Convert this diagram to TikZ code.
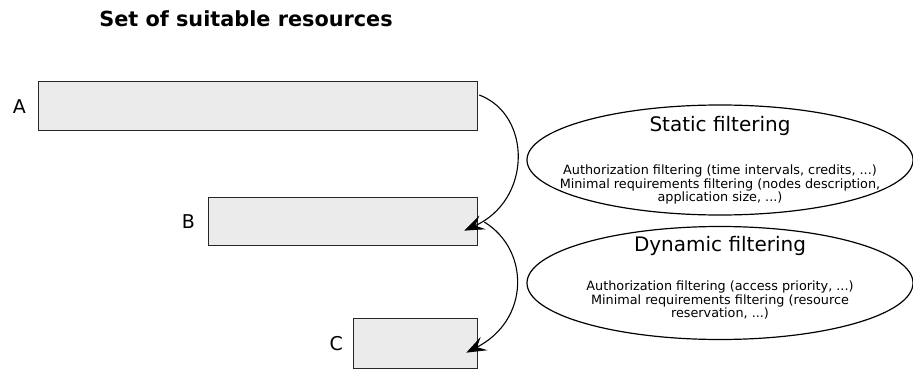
\documentclass[tikz,border=0pt]{standalone}
\usepackage{fontspec}
\setmainfont{DejaVu Sans}
\usepackage{tikz}
\usetikzlibrary{arrows.meta,positioning,shapes.geometric,calc}

\definecolor{boxgray}{HTML}{EBEBEB}

\tikzset{
  resbox/.style={draw=black!85, line width=1.3pt, fill=boxgray, inner sep=0pt, anchor=north west},
  letter/.style={inner sep=0pt, font=\fontsize{19}{22}\selectfont},
  filter/.style={draw, ellipse, line width=1.2pt, inner sep=0pt},
  filterhead/.style={inner sep=0pt, font=\fontsize{20}{24}\selectfont},
  filterbody/.style={inner sep=0pt, align=center, font=\fontsize{12.8}{11.5}\selectfont},
  flow/.style={line width=1.1pt, -{Stealth[length=20pt, width=15pt, inset=8pt]}}
}

\begin{document}
\begin{tikzpicture}[x=1pt, y=-1pt]
\useasboundingbox (0,0) rectangle (913,369);

\node[font=\bfseries\fontsize{20.8}{24}\selectfont, inner sep=0pt, anchor=base] (title) at (246,27) {Set of suitable resources};

% the three sets
\node[resbox, minimum width=439pt, minimum height=49pt] (A) at (38,81) {};
\node[resbox, minimum width=269pt, minimum height=48pt] (B) at (208,197) {};
\node[resbox, minimum width=124pt, minimum height=50pt] (C) at (353,318) {};

\node[letter, left=12pt of A] (labA) {A};
\node[letter, left=13pt of B] (labB) {B};
\node[letter, left=10pt of C] (labC) {C};

% filters
\node[filter, minimum width=386pt, minimum height=110pt] (static) at (720,160) {};
\node[filterhead, below=12pt of static.north] (statichead) {Static filtering};
\node[filterbody, below=5pt of static.center] (staticbody) {Authorization filtering (time intervals, credits, ...)\\Minimal requirements filtering (nodes description,\\application size, ...)};

\node[filter, minimum width=386pt, minimum height=113pt] (dynamic) at (720,283) {};
\node[filterhead, below=10pt of dynamic.north] (dynamichead) {Dynamic filtering};
\node[filterbody, below=-2pt of dynamic.center] (dynamicbody) {Authorization filtering (access priority, ...)\\Minimal requirements filtering (resource\\reservation, ...)};

\coordinate (Aout) at ($(A.north east)+(1,14)$);
\coordinate (Bin) at ($(B.east)+(-14,9)$);
\coordinate (Bout) at ($(B.north east)+(6,25)$);
\coordinate (Cin) at ($(C.east)+(-12,9)$);

\draw[flow] (Aout) .. controls (532,115) and (532,200) .. (Bin);
\draw[flow] (Bout) .. controls (530,250) and (530,320) .. (Cin);

\end{tikzpicture}
\end{document}
